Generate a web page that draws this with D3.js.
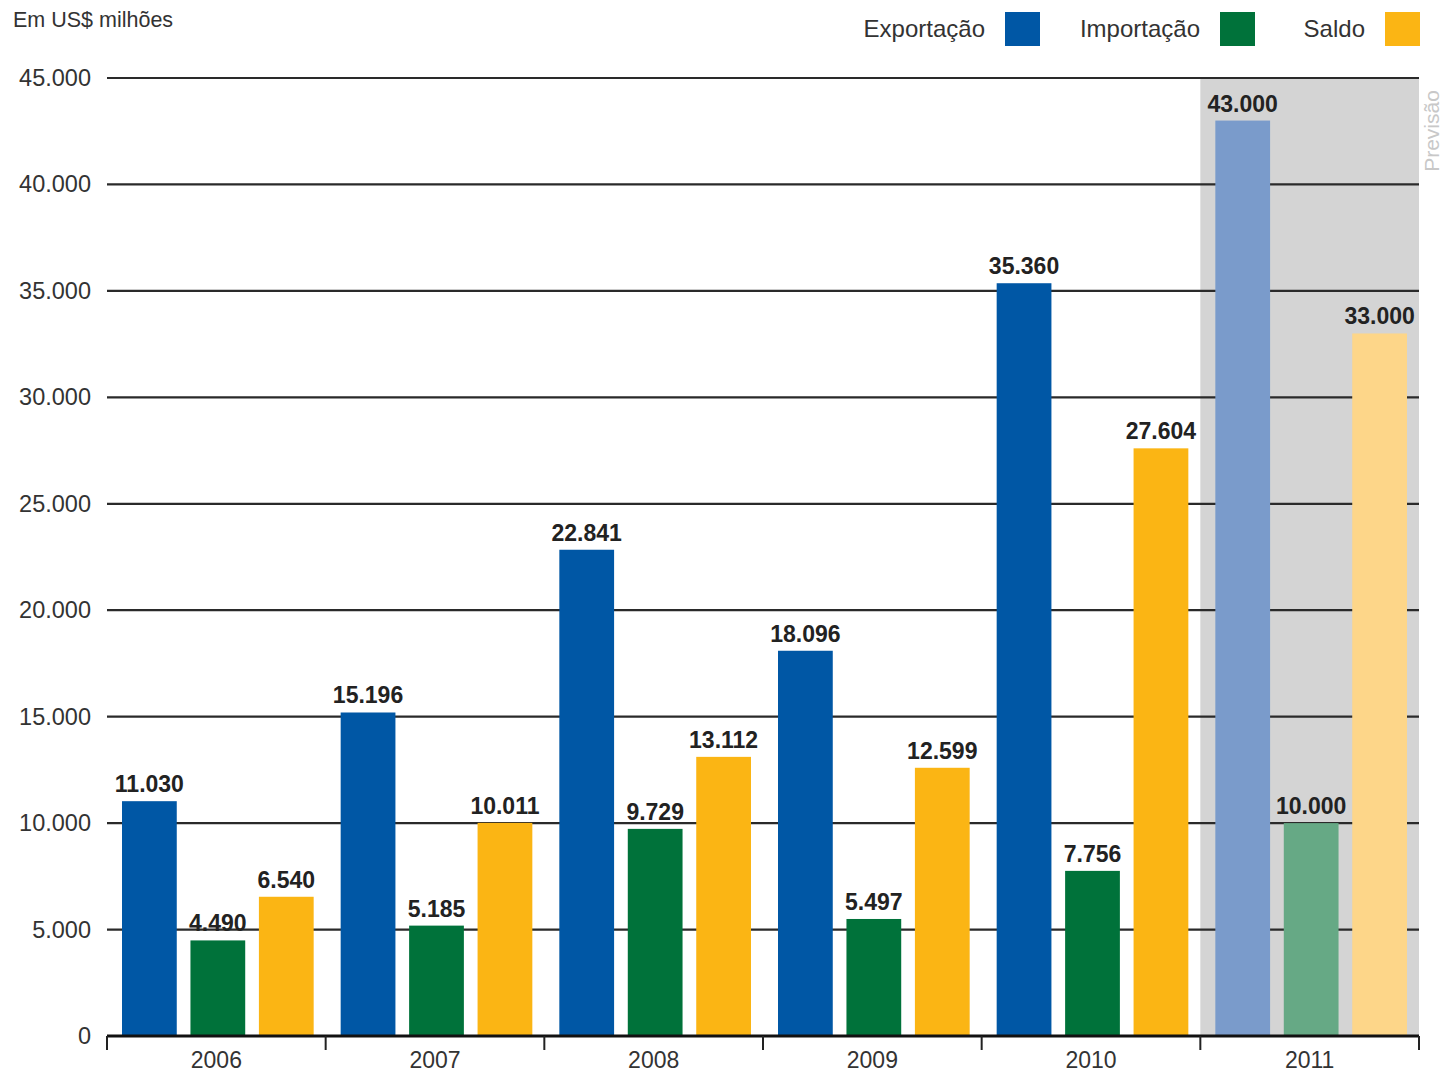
<!DOCTYPE html>
<html><head><meta charset="utf-8">
<script src="https://cdn.jsdelivr.net/npm/d3@7"></script>
<style>body{margin:0;background:#fff;}svg{display:block;font-family:"Liberation Sans",Arial,sans-serif;}</style>
</head><body><svg id="c" width="1445" height="1072"></svg>
<script>
const years = ["2006","2007","2008","2009","2010","2011"];
const series = ["Exportação","Importação","Saldo"];
const exportacao = [11030,15196,22841,18096,35360,43000];
const importacao = [4490,5185,9729,5497,7756,10000];
const saldo = [6540,10011,13112,12599,27604,33000];
const yTicks = [0,5000,10000,15000,20000,25000,30000,35000,40000,45000];
const forecastYear = "2011";
const colors = ["#0057a5","#00723a","#fbb514"];
const fadedColors = ["#7a9bcb","#66a985","#fdd689"];

const svg = d3.select("#c");
const x0 = 107, x1 = 1419, yTop = 78, yBot = 1036;
const fmt = v => d3.format(",")(v).replace(/,/g,".");
const x = d3.scaleBand().domain(years).range([x0,x1]).paddingInner(0).paddingOuter(0);
const xs = d3.scaleBand().domain(series).range([15, x.bandwidth()-12]).paddingInner(0.2).paddingOuter(0);
const y = d3.scaleLinear().domain([0,45000]).range([yBot,yTop]);
const values = [exportacao, importacao, saldo];

// forecast background
svg.append("rect").attr("x", x(forecastYear)).attr("y", y(45000))
  .attr("width", x1 - x(forecastYear)).attr("height", y(0)-y(45000)).attr("fill","#d4d4d4");

// grid
svg.append("g").selectAll("line").data(yTicks.filter(d=>d>0)).join("line")
  .attr("x1", x0).attr("x2", x1).attr("y1", d=>y(d)).attr("y2", d=>y(d))
  .attr("stroke","#2a2a2a").attr("stroke-width",2.2);

// y labels
svg.append("g").selectAll("text").data(yTicks).join("text")
  .attr("x", 91).attr("y", d=>y(d)+8).attr("text-anchor","end")
  .attr("font-size",23.5).attr("fill","#333").text(d=> d===0?"0":fmt(d));

// bars
years.forEach((yr,i)=>{
  series.forEach((s,j)=>{
    const v = values[j][i];
    const fc = yr===forecastYear;
    svg.append("rect").attr("x", x(yr)+xs(s)).attr("y", y(v))
      .attr("width", xs.bandwidth()).attr("height", y(0)-y(v))
      .attr("fill", fc?fadedColors[j]:colors[j]);
    svg.append("text").attr("x", x(yr)+xs(s)+xs.bandwidth()/2).attr("y", y(v)-9)
      .attr("text-anchor","middle").attr("font-size",23).attr("font-weight","bold")
      .attr("fill","#222").text(fmt(v));
  });
});

// x axis
const xAxis = d3.axisBottom(x).tickSize(0).tickFormat(d=>d);
const gx = svg.append("g").attr("transform",`translate(0,${yBot})`).call(xAxis);
gx.select(".domain").remove();
gx.selectAll("text").attr("font-size",23).attr("fill","#333").attr("y",0).attr("dy","1.4em").attr("font-family","Liberation Sans, Arial, sans-serif");
svg.append("line").attr("x1",x0).attr("x2",x1).attr("y1",yBot).attr("y2",yBot).attr("stroke","#111").attr("stroke-width",3);
const bounds = years.map(d=>x(d)).concat([x1]);
svg.append("g").selectAll("line").data(bounds).join("line")
  .attr("x1",d=>d).attr("x2",d=>d).attr("y1",yBot).attr("y2",yBot+14)
  .attr("stroke","#222").attr("stroke-width",2);

// title
svg.append("text").attr("x",13).attr("y",27).attr("font-size",21.5).attr("fill","#333").text("Em US$ milhões");

// Previsão
svg.append("text").attr("transform",`translate(1439,131) rotate(-90)`).attr("text-anchor","middle")
  .attr("font-size",21).attr("fill","#c8c8c8").text("Previsão");

// legend
const legend = [{t:series[0], tx:985, sx:1005},{t:series[1], tx:1200, sx:1220},{t:series[2], tx:1365, sx:1385}];
legend.forEach((l,i)=>{
  svg.append("text").attr("x",l.tx).attr("y",37).attr("text-anchor","end").attr("font-size",24).attr("fill","#333").text(l.t);
  svg.append("rect").attr("x",l.sx).attr("y",12).attr("width",35).attr("height",34).attr("fill",colors[i]);
});
</script></body></html>
